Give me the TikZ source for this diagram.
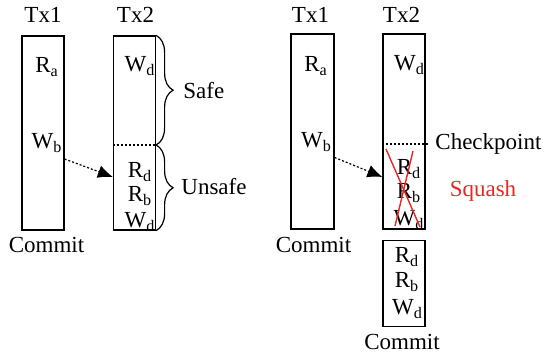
\documentclass[tikz,border=0pt]{standalone}
\usepackage{fontspec}
\setmainfont{Liberation Serif}
\usetikzlibrary{positioning,arrows.meta,decorations.pathreplacing}
\definecolor{squashred}{RGB}{228,40,36}
\newcommand{\opsub}[2]{#1\textsubscript{#2}}

\begin{document}
\begin{tikzpicture}[x=0.5pt,y=0.5pt,
  >={Latex[length=7.5pt,width=6.5pt]},
  every node/.style={inner sep=0pt,font=\fontsize{11.5}{13}\selectfont},
  txbox/.style={draw,line width=0.6pt,minimum width=21pt,minimum height=97pt},
  op/.style={anchor=base},
  dep/.style={->,line width=0.6pt,dash pattern=on 1pt off 1pt},
  ckpt/.style={line width=0.6pt,dash pattern=on 1pt off 1pt},
  brc/.style={decorate,decoration={brace,amplitude=8.5pt},line width=0.6pt},
  cross/.style={draw=squashred,line width=0.7pt}]
  \useasboundingbox (0,0) rectangle (544,-356);
  %  -- - left: Tx2 split at the checkpoint  -- -
  \node[txbox] (l1) at (43,-133) {};
  \node[txbox] (l2) at (134.5,-133) {};
  \node[op] (l1t) at (43,-23) {Tx1};
  \node[op] (l2t) at (135.5,-23) {Tx2};
  \node[op] (lra) at (47,-73) {\opsub{R}{a}};
  \node[op] (lwb) at (47,-149) {\opsub{W}{b}};
  \node[op] (lwd) at (140,-72) {\opsub{W}{d}};
  \node[op] (lrd) at (140,-178) {\opsub{R}{d}};
  \node[op] (lrb) at (140,-202) {\opsub{R}{b}};
  \node[op] (lwd2) at (140,-228) {\opsub{W}{d}};
  \node[op] (lcm) at (46.5,-253) {Commit};
  \draw[ckpt] ([yshift=-6pt]l2.west) -- ([yshift=-6pt]l2.east);
  \draw[brc] (l2.north east) -- ([yshift=-6pt]l2.east);
  \draw[brc] ([yshift=-6pt]l2.east) -- (l2.south east);
  \node[op,anchor=base west] (safe) at (183,-99) {Safe};
  \node[op,anchor=base west] (unsafe) at (181,-195) {Unsafe};
  \draw[dep] ([yshift=-13pt]l1.east) -- ([yshift=-22pt]l2.west);
  %  -- - right: Tx2 squashed and re-run  -- -
  \node[txbox,minimum width=21.5pt,minimum height=97.5pt] (r1) at (312.5,-131.5) {};
  \node[txbox,minimum height=97.5pt] (r2) at (404,-131.5) {};
  \node[txbox,minimum height=43pt] (r3) at (404,-283.7) {};
  \node[op] (r1t) at (310.5,-23) {Tx1};
  \node[op] (r2t) at (401.5,-23) {Tx2};
  \node[op] (rra) at (316,-72) {\opsub{R}{a}};
  \node[op] (rwb) at (316.5,-148) {\opsub{W}{b}};
  \node[op] (rwd) at (409.5,-71) {\opsub{W}{d}};
  \node[op] (rrd) at (409,-175) {\opsub{R}{d}};
  \node[op] (rrb) at (409,-199) {\opsub{R}{b}};
  \node[op] (rwd2) at (409,-226) {\opsub{W}{d}};
  \node[op] (rcm) at (313.5,-253) {Commit};
  \draw[ckpt] ([yshift=-6.25pt]r2.west) -- ([xshift=1pt,yshift=-6.25pt]r2.east);
  \node[op,anchor=base west] (ck) at (435,-150) {Checkpoint};
  \draw[dep] ([yshift=-13pt]r1.east) -- ([yshift=-22.75pt]r2.west);
  \draw[cross] (386,-149) -- (420,-227);
  \draw[cross] (413,-151) -- (395,-226);
  \node[op,text=squashred] (sq) at (483,-197) {Squash};
  \node[op] (nrd) at (407,-263) {\opsub{R}{d}};
  \node[op] (nrb) at (407,-288) {\opsub{R}{b}};
  \node[op] (nwd) at (407.5,-315) {\opsub{W}{d}};
  \node[op] (ncm) at (402,-350) {Commit};
\end{tikzpicture}
\end{document}
